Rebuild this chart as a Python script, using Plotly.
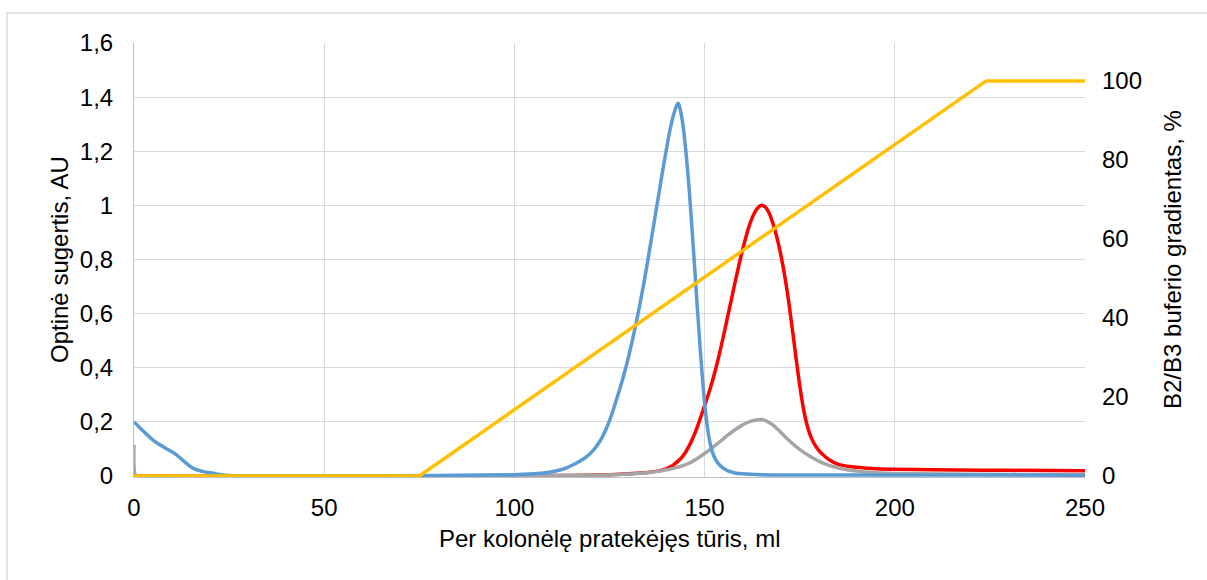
import plotly.graph_objects as go

# Elution volume (ml) and absorbance readings for each detector channel
blue_x = [0, 2.5, 5, 8, 11, 13.5, 15.6, 18, 20.8, 24, 30, 50, 80, 100, 102, 104, 106, 108,
          110, 112, 114, 116, 118, 119, 120, 121, 122, 123, 124, 125, 126, 127, 128, 129,
          130, 131, 132, 133, 134, 135, 136, 137, 138, 139, 140, 141, 142, 143, 144, 145,
          146, 147, 148, 149, 150, 151, 152, 153, 154, 155, 156, 157, 158, 160, 165, 180,
          250]
blue_y = [0.2, 0.165, 0.133, 0.105, 0.08, 0.05, 0.028, 0.017, 0.01, 0.003, 0.001, 0.001,
          0.002, 0.005, 0.006, 0.007, 0.009, 0.012, 0.016, 0.022, 0.032, 0.045, 0.062, 0.072,
          0.084, 0.099, 0.118, 0.141, 0.17, 0.205, 0.245, 0.29, 0.335, 0.385, 0.44, 0.5,
          0.565, 0.635, 0.71, 0.79, 0.875, 0.96, 1.045, 1.13, 1.21, 1.285, 1.342, 1.377,
          1.325, 1.21, 1.05, 0.85, 0.64, 0.44, 0.27, 0.155, 0.09, 0.058, 0.04, 0.028, 0.02,
          0.015, 0.011, 0.008, 0.005, 0.004, 0.003]

red_x = [0, 50, 100, 115, 125, 130, 134, 136, 138, 139, 140, 141, 142, 143, 144, 145, 146,
         147, 148, 149, 150, 151, 152, 153, 154, 155, 156, 157, 158, 159, 160, 161, 162, 163,
         164, 165, 166, 167, 168, 169, 170, 171, 172, 173, 174, 175, 176, 177, 178, 179,
         180, 181, 182, 183, 184, 185, 186, 188, 190, 193, 196, 200, 210, 230, 250]
red_y = [0, 0, 0.001, 0.002, 0.005, 0.008, 0.012, 0.015, 0.019, 0.022, 0.027, 0.034, 0.043,
         0.055, 0.069, 0.088, 0.113, 0.143, 0.178, 0.218, 0.26, 0.302, 0.348, 0.4, 0.458,
         0.52, 0.585, 0.65, 0.715, 0.778, 0.837, 0.89, 0.935, 0.969, 0.991, 1.0, 0.993,
         0.97, 0.932, 0.882, 0.82, 0.745, 0.655, 0.55, 0.44, 0.335, 0.248, 0.185, 0.143,
         0.115, 0.095, 0.08, 0.068, 0.058, 0.05, 0.044, 0.04, 0.035, 0.032, 0.029, 0.026,
         0.025, 0.023, 0.021, 0.019]

gray_x = [0, 0.4, 1, 20, 80, 110, 120, 126, 130, 132, 134, 136, 138, 140, 142, 144, 146,
          148, 150, 152, 154, 156, 158, 160, 162, 164, 165, 166, 168, 170, 172, 174, 176,
          178, 180, 182, 184, 186, 188, 190, 194, 198, 205, 220, 250]
gray_y = [0.115, 0.003, 0, 0, 0.001, 0.002, 0.003, 0.005, 0.007, 0.009, 0.011, 0.014,
          0.018, 0.023, 0.029, 0.037, 0.048, 0.064, 0.083, 0.104, 0.127, 0.15, 0.171, 0.189,
          0.202, 0.208, 0.209, 0.205, 0.188, 0.162, 0.134, 0.109, 0.088, 0.07, 0.055, 0.043,
          0.034, 0.027, 0.022, 0.018, 0.013, 0.01, 0.008, 0.006, 0.005]

# B2/B3 buffer gradient programme (%)
grad_x = [0, 75, 224, 250]
grad_y = [0, 0, 100, 100]

left_ticks = [0, 0.2, 0.4, 0.6, 0.8, 1.0, 1.2, 1.4, 1.6]
right_ticks = [0, 20, 40, 60, 80, 100]
x_ticks = [0, 50, 100, 150, 200, 250]

FONT = "Liberation Sans, Arial, sans-serif"
FS = 24
GRID = "#D9D9D9"
AXIS = "#BFBFBF"
LW = 3.5

# small negative floor keeps the full width of lines lying on zero visible
Y_LOW = -0.0037
Y2_LOW = Y_LOW / 1.6 * 109.6

fig = go.Figure()
fig.add_trace(go.Scatter(x=red_x, y=red_y, mode="lines",
                         line=dict(color="#FF0000", width=LW, shape="spline", smoothing=1)))
fig.add_trace(go.Scatter(x=gray_x, y=gray_y, mode="lines",
                         line=dict(color="#A5A5A5", width=LW, shape="spline", smoothing=1)))
fig.add_trace(go.Scatter(x=blue_x, y=blue_y, mode="lines",
                         line=dict(color="#5B9BD5", width=LW, shape="spline", smoothing=1)))
fig.add_trace(go.Scatter(x=grad_x, y=grad_y, mode="lines", yaxis="y2",
                         line=dict(color="#FFC000", width=LW)))

fig.update_layout(
    width=1207, height=580,
    margin=dict(l=134, r=122, t=43, b=103),
    paper_bgcolor="white", plot_bgcolor="white",
    showlegend=False,
    separators=", ",
    font=dict(family=FONT, size=FS, color="#000000"),
    xaxis=dict(range=[0, 250], tickvals=x_ticks, showgrid=True, gridcolor=GRID,
               gridwidth=1, zeroline=False, showline=True, linecolor=AXIS, linewidth=1,
               ticks="", ticklabelstandoff=9, tickfont=dict(size=FS)),
    yaxis=dict(range=[Y_LOW, 1.6], tickvals=left_ticks, showgrid=True, gridcolor=GRID,
               gridwidth=1, zeroline=False, showline=True, linecolor=AXIS, linewidth=1,
               ticks="", ticklabelstandoff=15, tickfont=dict(size=FS)),
    yaxis2=dict(range=[Y2_LOW, 109.6], overlaying="y", side="right",
                tickvals=right_ticks, showgrid=False, zeroline=False, showline=False,
                ticks="", ticklabelstandoff=16, tickfont=dict(size=FS)),
)

# frame around the chart area
fig.add_shape(type="rect", xref="paper", yref="paper",
              x0=-0.1335, y0=-0.4, x1=1.3, y1=1.0693,
              line=dict(color=GRID, width=1.5), fillcolor="rgba(0,0,0,0)", layer="below")

fig.add_annotation(text="Per kolonėlę pratekėjęs tūris, ml", xref="paper", yref="paper",
                   x=0.5, y=0, xanchor="center", yanchor="middle", yshift=-61,
                   showarrow=False, font=dict(size=FS))
fig.add_annotation(text="Optinė sugertis, AU", xref="paper", yref="paper",
                   x=0, y=0.5, xanchor="center", yanchor="middle", xshift=-75,
                   textangle=-90, showarrow=False, font=dict(size=FS))
fig.add_annotation(text="B2/B3 buferio gradientas, %", xref="paper", yref="paper",
                   x=1, y=0.5, xanchor="center", yanchor="middle", xshift=87,
                   textangle=-90, showarrow=False, font=dict(size=FS))

fig.write_html("out.html")
